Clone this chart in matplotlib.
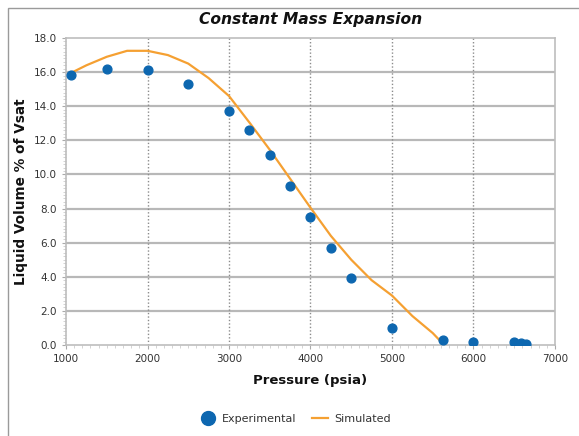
import matplotlib
matplotlib.use("Agg")
import matplotlib.pyplot as plt
from matplotlib.lines import Line2D
from matplotlib.patches import Rectangle
from matplotlib.ticker import MultipleLocator, FormatStrFormatter

BLUE = "#0d67b0"
ORANGE = "#f5a032"
GRID_GREY = "#b8b8b8"
TEXT_COLOUR = "#333333"

# Experimental CME points
exp_pressure = [1060, 1500, 2000, 2500, 3000, 3250, 3500, 3750, 4000, 4250,
                4500, 5000, 5620, 6000, 6500, 6580, 6650]
exp_volume = [15.85, 16.2, 16.1, 15.3, 13.7, 12.6, 11.15, 9.3, 7.5, 5.7,
              3.9, 1.0, 0.3, 0.2, 0.2, 0.1, 0.05]

# Simulated curve
sim_pressure = [1060, 1250, 1500, 1750, 2000, 2250, 2500, 2750, 3000, 3250,
                3500, 3750, 4000, 4250, 4500, 4750, 5000, 5250, 5500, 5630]
sim_volume = [15.95, 16.4, 16.9, 17.25, 17.25, 17.0, 16.5, 15.65, 14.6, 13.05,
              11.45, 9.75, 8.05, 6.4, 5.0, 3.8, 2.9, 1.7, 0.7, 0.05]

x_major_ticks = [1000, 2000, 3000, 4000, 5000, 6000, 7000]

fig = plt.figure(figsize=(5.79, 4.36), dpi=100)
ax = fig.add_axes([0.114, 0.2087, 0.8445, 0.7041])

# outer frame (cut off at right / bottom like the screenshot)
fig.patches.append(Rectangle((8 / 579, -0.1), 1.2, 1 - 8 / 436 + 0.1,
                             transform=fig.transFigure, fill=False,
                             edgecolor="#9a9a9a", linewidth=1.0))

ax.set_xlim(1000, 7000)
ax.set_ylim(0, 18)

# horizontal solid grid, vertical dotted grid
for y in range(2, 18, 2):
    ax.axhline(y, color=GRID_GREY, linewidth=1.6, zorder=1)
for x in x_major_ticks[1:-1]:
    ax.axvline(x, color="#8c8c8c", linewidth=1.0, linestyle=(0, (1, 1.5)), zorder=1)

ax.plot(sim_pressure, sim_volume, color=ORANGE, linewidth=1.6, zorder=3,
        label="Simulated")
ax.scatter(exp_pressure, exp_volume, s=40, color=BLUE, zorder=4,
           label="Experimental")

ax.set_xticks(x_major_ticks)
ax.yaxis.set_major_locator(MultipleLocator(2))
ax.yaxis.set_major_formatter(FormatStrFormatter("%.1f"))
ax.xaxis.set_minor_locator(MultipleLocator(100))
ax.yaxis.set_minor_locator(MultipleLocator(0.2))
ax.tick_params(axis="both", which="major", labelsize=7.5, colors="#aaaaaa",
               labelcolor=TEXT_COLOUR, length=3, width=0.8)
ax.tick_params(axis="both", which="minor", colors="#cccccc", length=2, width=0.6)

for spine in ax.spines.values():
    spine.set_color("#bdbdbd")
    spine.set_linewidth(1.2)

ax.set_title("Constant Mass Expansion", fontsize=11.2, fontweight="bold",
             fontstyle="italic", color="#111111", pad=10)
ax.set_xlabel("Pressure (psia)", fontsize=9.5, fontweight="bold",
              color="#111111", labelpad=7)
ax.set_ylabel("Liquid Volume % of Vsat", fontsize=9.8, fontweight="bold",
              color="#111111", labelpad=4)

handles = [
    Line2D([], [], marker="o", linestyle="none", color=BLUE, markersize=10),
    Line2D([], [], color=ORANGE, linewidth=1.6),
]
fig.legend(handles, ["Experimental", "Simulated"], loc="center",
           bbox_to_anchor=(0.51, 0.04), ncol=2, frameon=False, fontsize=8,
           handlelength=1.4, handletextpad=0.6, columnspacing=1.4,
           labelcolor=TEXT_COLOUR)

fig.savefig("out.png", dpi=100)
